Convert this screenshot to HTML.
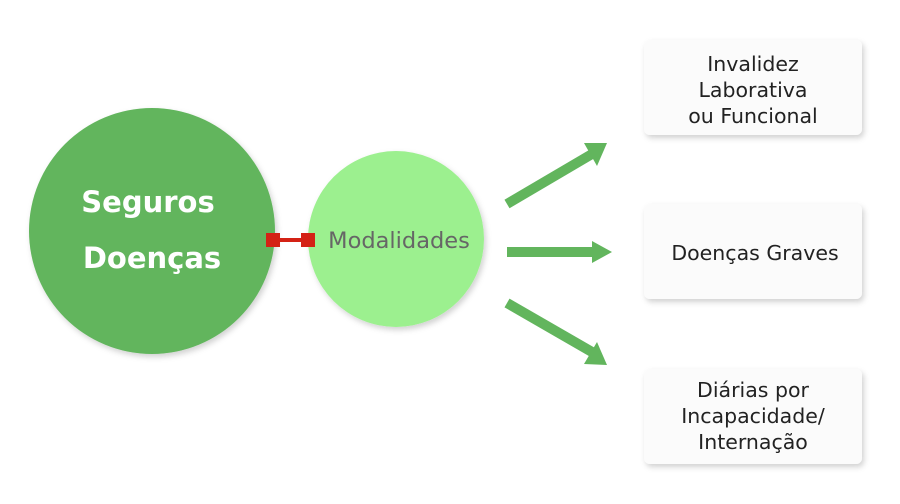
<!DOCTYPE html>
<html><head><meta charset="utf-8"><style>
body{margin:0;width:900px;height:500px;background:#fff;overflow:hidden;font-family:"DejaVu Sans","Liberation Sans",sans-serif}
</style></head><body>
<svg width="900" height="500" viewBox="0 0 900 500" xmlns="http://www.w3.org/2000/svg">
<defs>
<filter id="sh" x="-20%" y="-20%" width="140%" height="140%"><feDropShadow dx="2" dy="3" stdDeviation="3" flood-color="#000" flood-opacity="0.18"/></filter>
</defs>
<circle cx="152" cy="231" r="123" fill="#62b55d" filter="url(#sh)"/>
<circle cx="396" cy="239" r="88" fill="#9cf08f" filter="url(#sh)"/>
<text x="148" y="212" text-anchor="middle" font-size="29" fill="#fff" font-weight="bold">Seguros</text>
<text x="152" y="268" text-anchor="middle" font-size="29" fill="#fff" font-weight="bold">Doenças</text>
<text x="399" y="248" text-anchor="middle" font-size="22.5" fill="#666">Modalidades</text>
<line x1="275" y1="240" x2="310" y2="240" stroke="#d42215" stroke-width="4"/>
<rect x="266" y="233" width="14" height="14" fill="#d42215"/>
<rect x="301" y="233" width="14" height="14" fill="#d42215"/>
<g stroke="#62b55d" stroke-width="10" fill="#62b55d">
<line x1="507" y1="204" x2="592" y2="154"/>
<line x1="507" y1="252" x2="595" y2="252"/>
<line x1="507" y1="303" x2="592" y2="352"/>
</g>
<g fill="#62b55d" stroke="none">
<polygon points="607,143 584,143 597,166"/>
<polygon points="612,252 592,241 592,263"/>
<polygon points="607,365 597,342 584,364"/>
</g>
<g filter="url(#sh)" fill="#fbfbfb">
<rect x="644" y="40" width="218" height="95" rx="6"/>
<rect x="644" y="204" width="218" height="95" rx="6"/>
<rect x="644" y="369" width="218" height="95" rx="6"/>
</g>
<g font-size="20.5" fill="#222" text-anchor="middle">
<text x="753" y="71">Invalidez</text>
<text x="753" y="97">Laborativa</text>
<text x="753" y="123">ou Funcional</text>
<text x="755" y="260">Doenças Graves</text>
<text x="753" y="397">Diárias por</text>
<text x="753" y="423">Incapacidade/</text>
<text x="753" y="449">Internação</text>
</g>
</svg>
</body></html>
